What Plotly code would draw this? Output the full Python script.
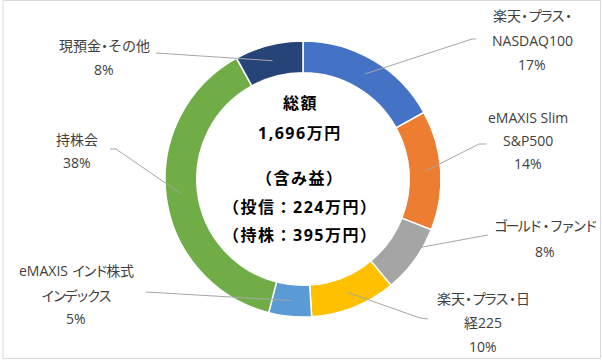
import math
import plotly.graph_objects as go

# ---- data ----
categories = ["楽天・プラス・NASDAQ100", "eMAXIS Slim S&P500", "ゴールド・ファンド",
              "楽天・プラス・日経225", "eMAXIS インド株式インデックス", "持株会", "現預金・その他"]
values = [17, 14, 8, 10, 5, 38, 8]
label_lines = [
    ["楽天・プラス・", "NASDAQ100"],
    ["eMAXIS Slim", "S&P500"],
    ["ゴールド・ファンド"],
    ["楽天・プラス・日", "経225"],
    ["eMAXIS インド株式", "インデックス"],
    ["持株会"],
    ["現預金・その他"],
]
center_lines = ["総額", "1,696万円", "（含み益）", "（投信：224万円）", "（持株：395万円）"]
colors = ["#4472C4", "#ED7D31", "#A5A5A5", "#FFC000", "#5B9BD5", "#70AD47", "#264478"]

# ---- layout constants (pixels) ----
W, H = 602, 360
CX, CY, R = 303, 179, 138
HOLE = 0.77
RM = R * (1 + HOLE) / 2  # ring middle radius

label_pos = [
    (532, [16, 40, 64]),
    (528, [118, 141, 164]),
    (545, [225, 251]),
    (483, [298, 322, 346]),
    (76, [270, 295, 318]),
    (77, [140, 163]),
    (104, [45, 70]),
]
leaders = [
    ((472, 39), (476, 39)),
    ((479, 144), (486, 144)),
    ((488, 235), (488, 235)),
    ((420, 318), (428, 319)),
    ((146, 292), (146, 292)),
    ((116, 149), (110, 149)),
    ((156, 53), (156, 53)),
]
center_y = [103, 133, 178, 207, 235]

LABEL_FONT = "Open Sans, Noto Sans CJK JP"

def px(x):
    return x / W

def py(y):
    return 1 - y / H

def kana_tight(t):
    # mimic a proportional UI font: narrow middle dots and katakana
    sp = []
    for i, c in enumerate(t):
        nxt = t[i + 1] if i + 1 < len(t) else ""
        if c == '・' or nxt == '・':
            s = -3.5
        elif '\u30a0' <= c <= '\u30ff':
            s = -2.5
        else:
            s = 0
        sp.append(s)
    out = ""
    i = 0
    while i < len(t):
        j = i
        while j < len(t) and sp[j] == sp[i]:
            j += 1
        seg = t[i:j]
        if sp[i] == 0:
            out += seg
        else:
            out += f'<span style="letter-spacing:{sp[i]}px">{seg}</span>'
        i = j
    return out

fig = go.Figure()
fig.add_trace(go.Pie(
    labels=categories, values=values, sort=False, direction="clockwise",
    hole=HOLE, textinfo="none", hoverinfo="label+percent",
    marker=dict(colors=colors, line=dict(color="white", width=1.5)),
    domain=dict(x=[px(CX - R), px(CX + R)], y=[py(CY + R), py(CY - R)]),
))

total = sum(values)
shapes = []
annotations = []
cum = 0
for i, v in enumerate(values):
    ang = math.radians((cum + v / 2) / total * 360)
    cum += v
    sx = CX + RM * math.sin(ang)
    sy = CY - RM * math.cos(ang)
    (ex, ey), (fx, fy) = leaders[i]
    shapes.append(dict(type="line", xref="paper", yref="paper",
                       x0=px(sx), y0=py(sy), x1=px(ex), y1=py(ey),
                       line=dict(color="#A6A6A6", width=1)))
    if (ex, ey) != (fx, fy):
        shapes.append(dict(type="line", xref="paper", yref="paper",
                           x0=px(ex), y0=py(ey), x1=px(fx), y1=py(fy),
                           line=dict(color="#A6A6A6", width=1)))
    pct = round(v / total * 100)
    lines = label_lines[i] + [f"{pct}%"]
    lx, ys = label_pos[i]
    for t, yy in zip(lines, ys):
        annotations.append(dict(text=kana_tight(t), x=px(lx), y=py(yy), xref="paper", yref="paper",
                                xanchor="center", yanchor="middle", showarrow=False,
                                font=dict(family=LABEL_FONT, size=14, color="#404040")))

for t, yy in zip(center_lines, center_y):
    annotations.append(dict(text=f'<b><span style="letter-spacing:1.5px">{t}</span></b>',
                            x=px(CX - 3), y=py(yy), xref="paper", yref="paper",
                            xanchor="center", yanchor="middle", showarrow=False,
                            font=dict(family="Open Sans, Noto Sans CJK JP", size=16, color="#000000")))

shapes.append(dict(type="rect", xref="paper", yref="paper",
                   x0=px(3), x1=px(600.5), y0=py(358.5), y1=py(0.5),
                   line=dict(color="#D9D9D9", width=1), layer="below"))

fig.update_layout(width=W, height=H, margin=dict(l=0, r=0, t=0, b=0),
                  paper_bgcolor="white", plot_bgcolor="white", showlegend=False,
                  shapes=shapes, annotations=annotations)
fig.write_html("out.html")
